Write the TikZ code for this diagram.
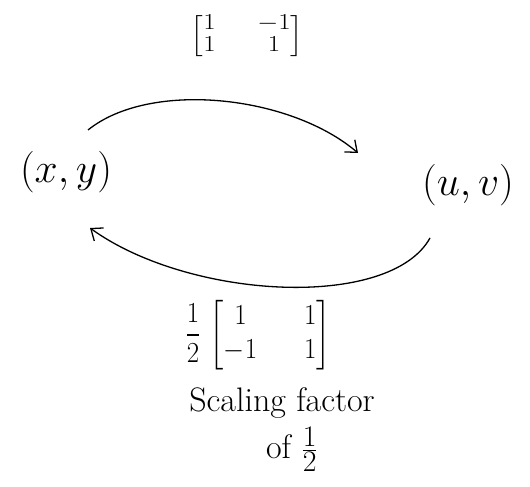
\documentclass[tikz,border=0pt]{standalone}
\usepackage{amsmath}
\usepackage{graphicx}
\usetikzlibrary{arrows.meta,calc}
\begin{document}
\begin{tikzpicture}[x=1pt,y=-1pt,
  lbl/.style={inner sep=0pt,font=\fontsize{20}{24}\selectfont},
  mat/.style={inner sep=0pt,font=\fontsize{20}{24}\selectfont},
  captext/.style={inner sep=0pt,font=\fontsize{34}{40}\selectfont},
  arc/.style={line width=1.3pt,-{Straight Barb[length=10pt,width=16pt]}}]
\useasboundingbox (0,0) rectangle (530,487);
\node[lbl] (xy) at (66,172) {\scalebox{2}{$(x,y)$}};
\node[lbl] (uv) at (468,185) {\scalebox{2}{$(u,v)$}};
\node[mat] (top) at (247,36) {\scalebox{1.3}[1.1]{$\renewcommand{\arraystretch}{0.85}\setlength{\arraycolsep}{16pt}\begin{bmatrix}1 & -1\\ 1 & 1\end{bmatrix}$}};
\node[mat] (bot) at (258,335) {\scalebox{1.3}[1.4]{$\dfrac{1}{2}\,\setlength{\arraycolsep}{18pt}\begin{bmatrix}1 & 1\\ -1 & 1\end{bmatrix}$}};
\node[captext] (cap1) at (282,403) {Scaling factor};
\node[captext,anchor=base] (cap2) at (292,458) {of \scalebox{1.2}{$\frac{1}{2}$}};
\draw[arc] ($(xy)+(22,-42)$) .. controls (150,80) and (290,95) .. ($(uv)+(-110,-32)$);
\draw[arc] ($(uv)+(-38,53)$) .. controls (390,310) and (190,300) .. ($(xy)+(24,56)$);
\end{tikzpicture}
\end{document}
